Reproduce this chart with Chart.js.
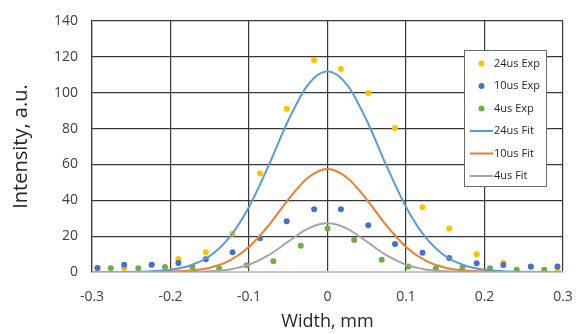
<!DOCTYPE html>
<html>
<head>
<meta charset="utf-8">
<script src="https://cdn.jsdelivr.net/npm/chart.js@4"></script>
<style>
  html, body { margin: 0; padding: 0; background: #fff; }
  #wrap { width: 584px; height: 334px; position: relative; }
</style>
</head>
<body>
<div id="wrap"><canvas id="c" width="584" height="334"></canvas></div>
<script>
// ---- Data ----
const xExpWide = [-0.293,-0.259,-0.224,-0.190,-0.155,-0.121,-0.086,-0.052,-0.017,0.017,0.052,0.086,0.121,0.155,0.190,0.224,0.259,0.293];
const exp24 = [2.0,2.2,4.0,7.3,11.0,21.4,55.0,91.0,118.3,113.2,99.8,80.3,36.1,24.2,9.9,5.2,2.8,1.9];
const exp10 = [2.2,4.1,4.1,5.0,7.1,11.0,18.8,28.3,35.0,35.0,26.1,15.6,10.8,7.8,4.9,3.9,3.0,3.0];
const xExp4 = [-0.276,-0.241,-0.207,-0.172,-0.138,-0.103,-0.069,-0.034,0,0.034,0.069,0.103,0.138,0.172,0.207,0.241,0.276];
const exp4 = [2.1,2.1,2.8,2.8,1.9,3.7,6.0,14.7,24.2,17.9,6.9,3.0,1.9,2.5,2.1,1.3,1.3];

const xFit = [-0.3,-0.275,-0.25,-0.225,-0.2,-0.175,-0.15,-0.125,-0.1,-0.075,-0.05,-0.025,0,0.025,0.05,0.075,0.1,0.125,0.15,0.175,0.2,0.225,0.25,0.275,0.3];
const fit24 = [0,0,0.1,0.4,1.2,3.6,8.9,19.3,36.3,59.4,84.5,104.4,112,104.4,84.5,59.4,36.3,19.3,8.9,3.6,1.2,0.4,0.1,0,0];
const fit10 = [0,0,0,0,0.2,0.8,2.4,6.3,14.0,26.0,40.4,52.6,57.5,52.6,40.4,26.0,14.0,6.3,2.4,0.8,0.2,0,0,0,0];
const fit4  = [0,0,0,0,0,0.1,0.4,1.4,4.1,9.4,16.9,24.2,27.2,24.2,16.9,9.4,4.1,1.4,0.4,0.1,0,0,0,0,0];

const seriesLabels = ['24us Exp','10us Exp','4us Exp','24us Fit','10us Fit','4us Fit'];
const xTickValues = [-0.3,-0.2,-0.1,0,0.1,0.2,0.3];
const yTickValues = [0,20,40,60,80,100,120,140];
const xTitle = 'Width, mm';
const yTitle = 'Intensity, a.u.';

const pts = (xs, ys) => xs.map((x, i) => ({x, y: ys[i]}));
const FONT = "'Open Sans', 'Liberation Sans', sans-serif";

const legendPlugin = {
  id: 'boxLegend',
  afterDatasetsDraw(chart) {
    const ctx = chart.ctx;
    const bx = 464.5, by = 50.5, bw = 82, bh = 136;
    ctx.save();
    ctx.fillStyle = '#ffffff';
    ctx.fillRect(bx, by, bw, bh);
    ctx.strokeStyle = '#6a6a6a';
    ctx.lineWidth = 1;
    ctx.strokeRect(bx, by, bw, bh);
    ctx.font = "11px " + FONT;
    ctx.textBaseline = 'middle';
    ctx.textAlign = 'left';
    chart.data.datasets.forEach((ds, i) => {
      const cy = 63.5 + i * 22.5;
      if (ds.showLine) {
        ctx.strokeStyle = ds.borderColor;
        ctx.lineWidth = 2;
        ctx.beginPath();
        ctx.moveTo(470, cy);
        ctx.lineTo(493, cy);
        ctx.stroke();
      } else {
        ctx.fillStyle = ds.backgroundColor;
        ctx.beginPath();
        ctx.arc(481.5, cy, 3, 0, Math.PI * 2);
        ctx.fill();
      }
      ctx.fillStyle = '#262626';
      ctx.fillText(ds.label, 494, cy);
    });
    ctx.restore();
  }
};

const gridDark = '#383838';

new Chart(document.getElementById('c'), {
  type: 'scatter',
  data: {
    datasets: [
      { label: seriesLabels[0], data: pts(xExpWide, exp24), backgroundColor: '#FFC000', borderColor: '#FFC000', pointRadius: 3, pointBorderWidth: 0, showLine: false, order: 6 },
      { label: seriesLabels[1], data: pts(xExpWide, exp10), backgroundColor: '#4472C4', borderColor: '#4472C4', pointRadius: 3, pointBorderWidth: 0, showLine: false, order: 5 },
      { label: seriesLabels[2], data: pts(xExp4, exp4), backgroundColor: '#70AD47', borderColor: '#70AD47', pointRadius: 3, pointBorderWidth: 0, showLine: false, order: 4 },
      { label: seriesLabels[3], data: pts(xFit, fit24), borderColor: '#5B9BD5', backgroundColor: '#5B9BD5', borderWidth: 2, pointRadius: 0, showLine: true, cubicInterpolationMode: 'monotone', order: 3 },
      { label: seriesLabels[4], data: pts(xFit, fit10), borderColor: '#ED7D31', backgroundColor: '#ED7D31', borderWidth: 2, pointRadius: 0, showLine: true, cubicInterpolationMode: 'monotone', order: 2 },
      { label: seriesLabels[5], data: pts(xFit, fit4), borderColor: '#A5A5A5', backgroundColor: '#A5A5A5', borderWidth: 2, pointRadius: 0, showLine: true, cubicInterpolationMode: 'monotone', order: 1 }
    ]
  },
  options: {
    responsive: false,
    animation: false,
    events: [],
    layout: { padding: { left: 0, right: 21, top: 21, bottom: 0 } },
    plugins: { legend: { display: false }, tooltip: { enabled: false } },
    scales: {
      x: {
        type: 'linear', min: -0.3, max: 0.3,
        afterBuildTicks: (s) => { s.ticks = xTickValues.map(v => ({value: v})); },
        afterFit: (s) => { s.height = 62; s.paddingLeft = 0; s.paddingRight = 0; },
        grid: { color: gridDark, lineWidth: 1.2, drawTicks: false },
        border: { display: true, color: '#c8c8c8', width: 2 },
        ticks: {
          padding: 17, color: '#404040', font: { family: FONT, size: 14 },
          callback: (v) => (Math.abs(v) < 1e-9 ? '0' : v.toFixed(1))
        },
        title: { display: true, text: xTitle, color: '#262626', font: { family: FONT, size: 18 }, padding: { top: 0, bottom: 1 } }
      },
      y: {
        type: 'linear', min: 0, max: 140,
        afterBuildTicks: (s) => { s.ticks = yTickValues.map(v => ({value: v})); },
        afterFit: (s) => { s.width = 92; s.paddingTop = 0; s.paddingBottom = 0; },
        grid: { color: (c) => c.tick && c.tick.value === 0 ? '#c8c8c8' : gridDark, lineWidth: 1.2, drawTicks: false },
        border: { display: true, color: gridDark, width: 1.2 },
        ticks: { padding: 14, color: '#404040', font: { family: FONT, size: 14 } },
        title: { display: true, text: yTitle, color: '#262626', font: { family: FONT, size: 20 }, padding: { top: 9, bottom: 0 } }
      }
    }
  },
  plugins: [legendPlugin]
});
</script>
</body>
</html>
